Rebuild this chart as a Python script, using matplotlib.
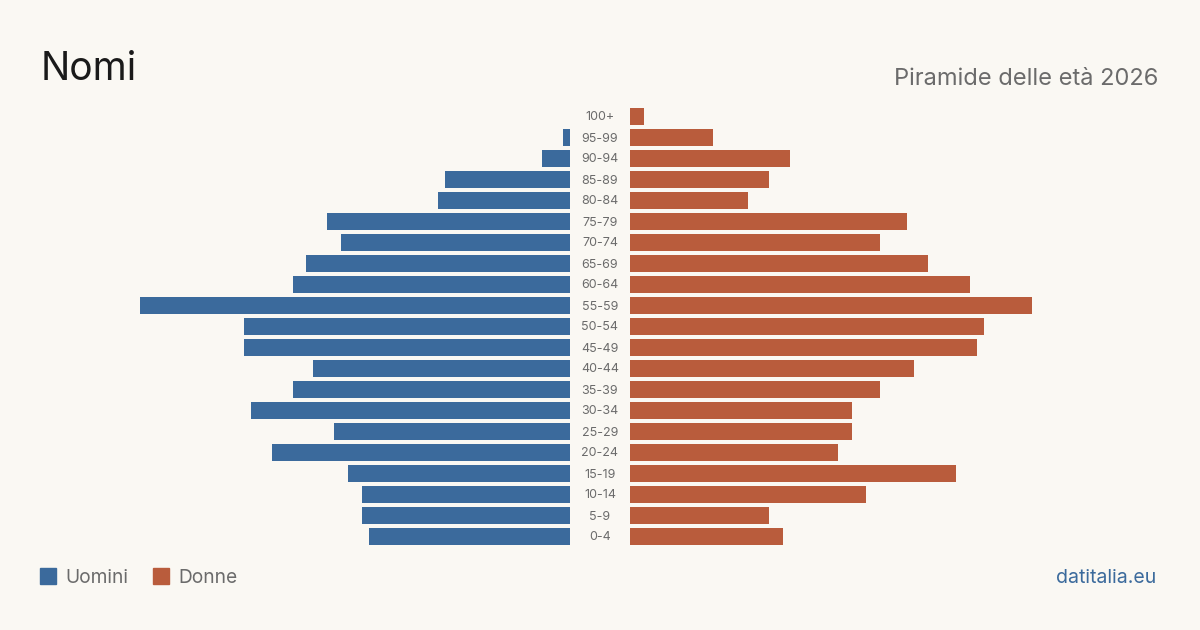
import matplotlib.pyplot as plt

# dati della piramide
fasce = ['0-4', '5-9', '10-14', '15-19', '20-24', '25-29', '30-34', '35-39',
         '40-44', '45-49', '50-54', '55-59', '60-64', '65-69', '70-74',
         '75-79', '80-84', '85-89', '90-94', '95-99', '100+']
uomini = [29, 30, 30, 32, 43, 34, 46, 40, 37, 47, 47, 62, 40, 38, 33, 35, 19, 18, 4, 1, 0]
donne = [22, 20, 34, 47, 30, 32, 32, 36, 41, 50, 51, 58, 49, 43, 36, 40, 17, 20, 23, 12, 2]

blu = '#3b6a9c'
arancio = '#b95c3c'
sfondo = '#faf8f3'
grigio = '#6b6b6b'
plt.rcParams['font.family'] = ['Inter', 'DejaVu Sans']

W, H = 1200, 630
fig = plt.figure(figsize=(12, 6.3), dpi=100, facecolor=sfondo)

top, bottom = 106, 547
ax_sx = fig.add_axes([140 / W, 1 - bottom / H, 430 / W, (bottom - top) / H])
ax_dx = fig.add_axes([630 / W, 1 - bottom / H, 430 / W, (bottom - top) / H])

y = range(len(fasce))
ax_sx.barh(y, uomini, height=0.81, color=blu)
ax_dx.barh(y, donne, height=0.81, color=arancio)
ax_sx.set_xlim(62, 0)
ax_dx.set_xlim(0, 62)
for ax in (ax_sx, ax_dx):
    ax.set_ylim(-0.5, len(fasce) - 0.5)
    ax.axis('off')

# etichette centrali
for i, f in enumerate(fasce):
    yc = (bottom - (i + 0.5) * (bottom - top) / len(fasce)) + 1
    fig.text(600 / W, 1 - yc / H, f, ha='center', va='center',
             fontsize=9, color=grigio)

fig.text(41 / W, 1 - 80 / H, 'Nomi', fontsize=28, color='#1a1a1a',
         ha='left', va='baseline')
fig.text(1158 / W, 1 - 85 / H, 'Piramide delle età 2026', fontsize=17,
         color=grigio, ha='right', va='baseline')

# legenda
fig.patches.append(plt.Rectangle((40 / W, 1 - 584 / H), 16 / W, 16 / H,
                                 transform=fig.transFigure, color=blu))
fig.text(65 / W, 1 - 583 / H, 'Uomini', fontsize=13.8, color=grigio,
         ha='left', va='baseline')
fig.patches.append(plt.Rectangle((153 / W, 1 - 584 / H), 16 / W, 16 / H,
                                 transform=fig.transFigure, color=arancio))
fig.text(178 / W, 1 - 583 / H, 'Donne', fontsize=13.8, color=grigio,
         ha='left', va='baseline')

fig.text(1156 / W, 1 - 583 / H, 'datitalia.eu', fontsize=14, color=blu,
         ha='right', va='baseline')

fig.savefig('out.png', dpi=100, facecolor=sfondo)
